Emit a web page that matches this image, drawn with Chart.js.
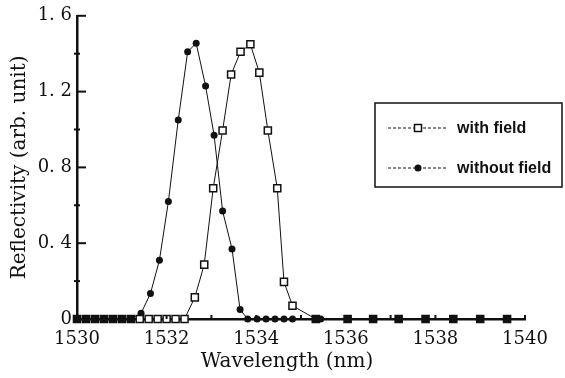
<!DOCTYPE html>
<html>
<head>
<meta charset="utf-8">
<title>Reflectivity vs wavelength</title>
<script src="https://cdn.jsdelivr.net/npm/chart.js@4/dist/chart.umd.min.js"></script>
<style>
  body { margin: 0; background: #fff; }
  canvas { display: block; }
</style>
</head>
<body>
<canvas id="refl-chart" width="565" height="378"></canvas>
<script>
// Data
const withFieldWl = [1530.0, 1530.2, 1530.4, 1530.6, 1530.8, 1531.0, 1531.2, 1531.4, 1531.6, 1531.8, 1532.0, 1532.2, 1532.4,
    1532.63, 1532.84, 1533.04, 1533.25, 1533.44, 1533.65, 1533.87, 1534.07, 1534.26, 1534.47, 1534.62, 1534.81,
    1535.33, 1536.04, 1536.61, 1537.18, 1537.78, 1538.4, 1539.0, 1539.6];
const withFieldR = [0, 0, 0, 0, 0, 0, 0, 0, 0, 0, 0, 0, 0,
    0.114, 0.287, 0.69, 0.995, 1.29, 1.41, 1.45, 1.30, 0.995, 0.69, 0.196, 0.07,
    0, 0, 0, 0, 0, 0, 0, 0];

const withoutFieldWl = [1530.0, 1530.2, 1530.4, 1530.6, 1530.8, 1531.0, 1531.2,
    1531.43, 1531.64, 1531.84, 1532.04, 1532.26, 1532.47, 1532.66, 1532.87, 1533.06, 1533.25, 1533.46, 1533.64,
    1533.81, 1534.02, 1534.22, 1534.42, 1534.62, 1534.81,
    1535.44, 1536.04, 1536.61, 1537.18, 1537.78, 1538.4, 1539.0, 1539.6];
const withoutFieldR = [0, 0, 0, 0, 0, 0, 0,
    0.03, 0.135, 0.31, 0.62, 1.05, 1.41, 1.455, 1.23, 0.97, 0.57, 0.37, 0.05,
    0, 0, 0, 0, 0, 0,
    0, 0, 0, 0, 0, 0, 0, 0];

const xTickValues = [1530, 1532, 1534, 1536, 1538, 1540];
const yTickValues = [0, 0.4, 0.8, 1.2, 1.6];
const seriesLabels = ['with field', 'without field'];

function toPoints(xs, ys) {
    return xs.map((x, i) => ({ x: x, y: ys[i] }));
}

const INK = '#111';
const serif = '"DejaVu Serif", "Liberation Serif", serif';

// draws the inward ticks, the x title and the boxed legend
const decorPlugin = {
    id: 'decor',
    afterDraw(chart) {
        const ctx = chart.ctx;
        const xs = chart.scales.x;
        const ys = chart.scales.y;
        const area = chart.chartArea;
        ctx.save();
        ctx.strokeStyle = INK;
        ctx.lineWidth = 2;

        // y ticks: long ones inward at labels, short crosses in between
        for (let i = 0; i < yTickValues.length; i++) {
            const py = ys.getPixelForValue(yTickValues[i]);
            ctx.beginPath();
            ctx.moveTo(area.left, py);
            ctx.lineTo(area.left + 9, py);
            ctx.stroke();
            if (i > 0) {
                const mid = ys.getPixelForValue((yTickValues[i] + yTickValues[i - 1]) / 2);
                ctx.beginPath();
                ctx.moveTo(area.left - 3, mid);
                ctx.lineTo(area.left + 3, mid);
                ctx.stroke();
            }
        }
        // x ticks, small and upward
        for (let v = 1530; v <= 1540; v++) {
            const px = xs.getPixelForValue(v);
            ctx.beginPath();
            ctx.moveTo(px, area.bottom);
            ctx.lineTo(px, area.bottom - 4);
            ctx.stroke();
        }

        // x axis title
        ctx.fillStyle = INK;
        ctx.font = '20px ' + serif;
        ctx.textAlign = 'center';
        ctx.textBaseline = 'middle';
        ctx.fillText('Wavelength (nm)', 287, 362);

        // legend box
        ctx.lineWidth = 1.5;
        ctx.strokeRect(375, 103, 187, 84);
        const rows = [128, 168];
        ctx.font = 'bold 16px "Liberation Sans", Arial, sans-serif';
        ctx.textAlign = 'left';
        rows.forEach((ry, i) => {
            ctx.lineWidth = 1;
            ctx.setLineDash([3, 2]);
            ctx.beginPath();
            ctx.moveTo(388, ry);
            ctx.lineTo(447, ry);
            ctx.stroke();
            ctx.setLineDash([]);
            if (i === 0) {
                ctx.fillStyle = '#fff';
                ctx.fillRect(414.5, ry - 3.5, 7, 7);
                ctx.lineWidth = 1.5;
                ctx.strokeRect(414.5, ry - 3.5, 7, 7);
            } else {
                ctx.fillStyle = INK;
                ctx.beginPath();
                ctx.arc(418, ry, 3.5, 0, Math.PI * 2);
                ctx.fill();
            }
            ctx.fillStyle = INK;
            ctx.fillText(chart.data.datasets[i].label, 457, ry + 1);
        });
        ctx.restore();
    }
};

const ctx = document.getElementById('refl-chart');
new Chart(ctx, {
    type: 'line',
    data: {
        datasets: [{
            label: seriesLabels[0],
            data: toPoints(withFieldWl, withFieldR),
            borderColor: INK,
            borderWidth: 1,
            pointStyle: 'rect',
            pointRadius: 5,
            pointBorderWidth: 1.5,
            // squares overlapping the filled dots on the baseline print as solid black
            pointBackgroundColor: function(c) {
                const p = c.raw;
                return p && (p.x > 1535 || p.x < 1531.3) ? INK : '#fff';
            },
            pointBorderColor: INK,
            tension: 0,
            clip: false
        }, {
            label: seriesLabels[1],
            data: toPoints(withoutFieldWl, withoutFieldR),
            borderColor: INK,
            borderWidth: 1,
            pointStyle: 'circle',
            pointRadius: 3.5,
            pointBorderWidth: 0,
            pointBackgroundColor: INK,
            pointBorderColor: INK,
            tension: 0,
            clip: false
        }]
    },
    options: {
        responsive: false,
        animation: false,
        layout: { padding: { top: 14, right: 40, left: 0, bottom: 0 } },
        plugins: {
            legend: { display: false },
            tooltip: { enabled: false }
        },
        scales: {
            x: {
                type: 'linear',
                min: 1530,
                max: 1540,
                afterFit: function(scale) { scale.height = 59; },
                afterBuildTicks: function(scale) {
                    scale.ticks = xTickValues.map(v => ({ value: v }));
                },
                grid: { display: false, drawTicks: false },
                border: { display: true, color: INK, width: 2.5 },
                ticks: {
                    color: INK,
                    padding: 10,
                    maxRotation: 0,
                    font: { family: serif, size: 18 },
                    callback: function(value) { return String(value); }
                }
            },
            y: {
                min: 0,
                max: 1.6,
                afterFit: function(scale) { scale.width = 77; },
                afterBuildTicks: function(scale) {
                    scale.ticks = yTickValues.map(v => ({ value: v }));
                },
                grid: { display: false, drawTicks: false },
                border: { display: true, color: INK, width: 2.5 },
                ticks: {
                    color: INK,
                    padding: 5,
                    font: { family: serif, size: 18 },
                    callback: function(value) {
                        return value === 0 ? '0' : value.toFixed(1).replace('.', '. ');
                    }
                },
                title: {
                    display: true,
                    text: 'Reflectivity (arb. unit)',
                    color: INK,
                    font: { family: serif, size: 20 },
                    padding: { top: 8, bottom: 0 }
                }
            }
        }
    },
    plugins: [decorPlugin]
});
</script>
</body>
</html>
